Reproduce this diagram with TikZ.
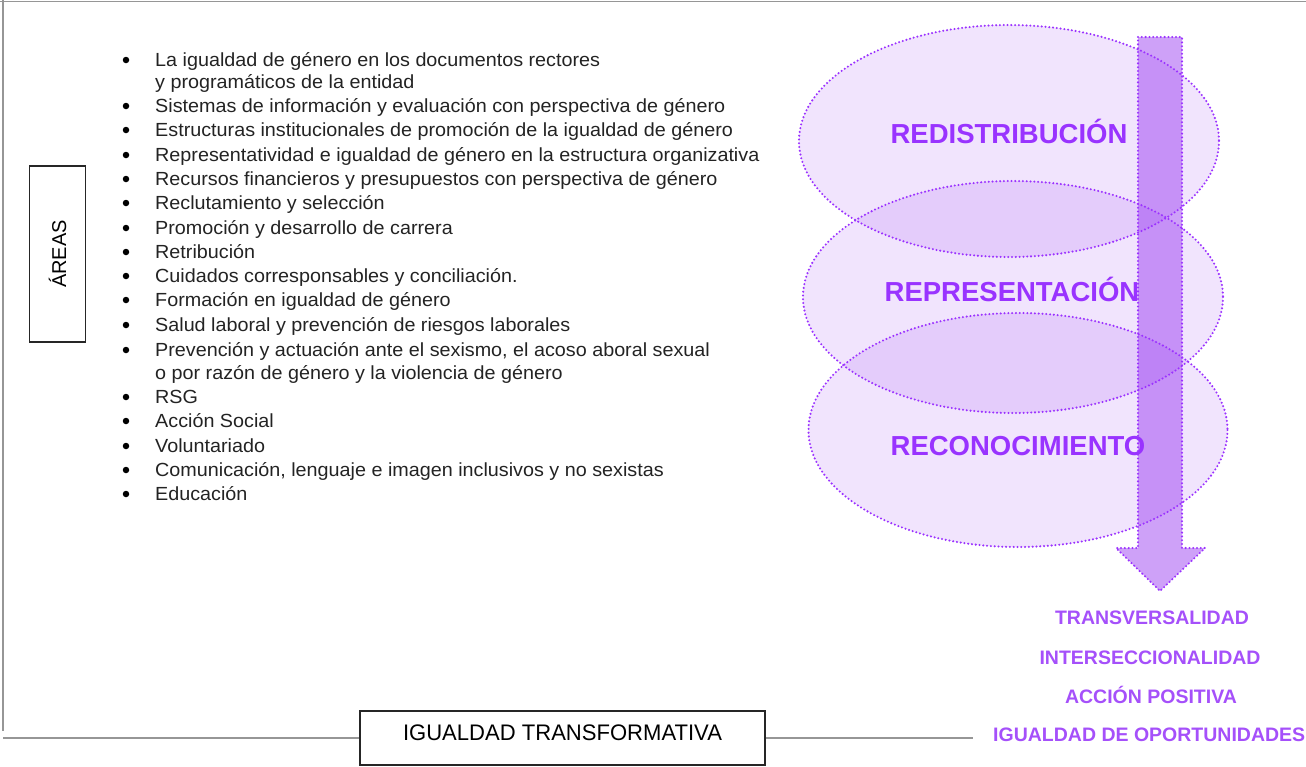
\documentclass[tikz,border=0pt]{standalone}
\usepackage{fontspec}
\usetikzlibrary{shapes.geometric}
\setmainfont{Liberation Sans}
\definecolor{txt}{RGB}{35,35,35}
\definecolor{vio}{RGB}{138,30,238}
\definecolor{violine}{RGB}{155,50,255}
\definecolor{viotext}{RGB}{153,51,255}
\definecolor{viotext2}{RGB}{165,80,250}
\definecolor{frame}{RGB}{150,150,150}
\tikzset{
  item/.style={anchor=base west, inner sep=0pt, text=txt, xscale=1.04, font=\fontsize{19}{21}\selectfont},
  bul/.style={circle, fill=black, inner sep=0pt, minimum size=6.5pt},
  dots/.style={draw=violine, draw opacity=1, line width=2.3pt, dash pattern=on 0pt off 3.8pt, line cap=round},
  ring/.style={ellipse, fill=vio, fill opacity=0.12, inner sep=0pt},
  biglab/.style={text=viotext, font=\fontsize{27.5}{30}\bfseries\selectfont, inner sep=0pt},
  smalllab/.style={text=viotext2, font=\fontsize{19.5}{21}\bfseries\selectfont, inner sep=0pt},
  framel/.style={draw=frame, line width=1.8pt},
  boxl/.style={draw=black!85, line width=1.6pt, fill=white},
}
\begin{document}
\begin{tikzpicture}[x=1pt,y=-1pt]
\useasboundingbox (0,0) rectangle (1306,766);
% frame lines
\coordinate (tl) at (3,0);
\coordinate (tr) at (1306,1.5);
\coordinate (t0) at (0,1.5);
\coordinate (lb) at (3,731);
\coordinate (bl) at (3,738);
\coordinate (br) at (973,738);
\draw[framel] (t0) -- (tr);
\draw[framel] (tl) -- (lb);

% AREAS box
\node[boxl, minimum width=56pt, minimum height=176pt, inner sep=0pt] (areas) at (57.5,254) {};
\node[rotate=90, text=black, font=\fontsize{20}{22}\selectfont, inner sep=0pt] (areastxt) at (areas.center) {ÁREAS};

% IGUALDAD TRANSFORMATIVA box
\node[boxl, minimum width=405pt, minimum height=54pt, inner sep=0pt] (tbox) at (562.5,738) {};
\node[text=black, font=\fontsize{22.5}{24}\selectfont, inner sep=0pt, xscale=0.98] (tboxtxt) at (562.5,733) {IGUALDAD TRANSFORMATIVA};
\draw[framel] (bl) -- (tbox.west);
\draw[framel] (tbox.east) -- (br);

% bullet list
\node[bul] (b1) at (126,60) {};
\node[item] (i1) at (155,66) {La igualdad de género en los documentos rectores};
\node[item] (i1b) at (155,88) {y programáticos de la entidad};
\node[bul] (b2) at (126,106) {};
\node[item] (i2) at (155,112) {Sistemas de información y evaluación con perspectiva de género};
\node[bul] (b3) at (126,130) {};
\node[item] (i3) at (155,136) {Estructuras institucionales de promoción de la igualdad de género};
\node[bul] (b4) at (126,155) {};
\node[item] (i4) at (155,161) {Representatividad e igualdad de género en la estructura organizativa};
\node[bul] (b5) at (126,179) {};
\node[item] (i5) at (155,185) {Recursos financieros y presupuestos con perspectiva de género};
\node[bul] (b6) at (126,203) {};
\node[item] (i6) at (155,209) {Reclutamiento y selección};
\node[bul] (b7) at (126,228) {};
\node[item] (i7) at (155,234) {Promoción y desarrollo de carrera};
\node[bul] (b8) at (126,252) {};
\node[item] (i8) at (155,258) {Retribución};
\node[bul] (b9) at (126,276) {};
\node[item] (i9) at (155,282) {Cuidados corresponsables y conciliación.};
\node[bul] (b10) at (126,300) {};
\node[item] (i10) at (155,306) {Formación en igualdad de género};
\node[bul] (b11) at (126,325) {};
\node[item] (i11) at (155,331) {Salud laboral y prevención de riesgos laborales};
\node[bul] (b12) at (126,350) {};
\node[item] (i12) at (155,356) {Prevención y actuación ante el sexismo, el acoso aboral sexual};
\node[item] (i12b) at (155,379) {o por razón de género y la violencia de género};
\node[bul] (b13) at (126,397) {};
\node[item] (i13) at (155,403) {RSG};
\node[bul] (b14) at (126,421) {};
\node[item] (i14) at (155,427) {Acción Social};
\node[bul] (b15) at (126,446) {};
\node[item] (i15) at (155,452) {Voluntariado};
\node[bul] (b16) at (126,470) {};
\node[item] (i16) at (155,476) {Comunicación, lenguaje e imagen inclusivos y no sexistas};
\node[bul] (b17) at (126,494) {};
\node[item] (i17) at (155,500) {Educación};

% ellipses (fills)
\node[ring, minimum width=420pt, minimum height=232pt] (e1) at (1009,141) {};
\node[ring, minimum width=420pt, minimum height=232pt] (e2) at (1013,297) {};
\node[ring, minimum width=419pt, minimum height=234pt] (e3) at (1018,430) {};

% arrow
\draw[fill=vio, fill opacity=0.42, dots, line join=round]
  (1138,37) -- (1182,37) -- (1182,548) -- (1205,548) -- (1160,591) -- (1116,548) -- (1138,548) -- cycle;

% ellipse outlines on top
\draw[dots] (e1.center) ellipse [x radius=210, y radius=116];
\draw[dots] (e2.center) ellipse [x radius=210, y radius=116];
\draw[dots] (e3.center) ellipse [x radius=209.5, y radius=117];

% labels
\node[biglab] (l1) at (1009,131) {REDISTRIBUCIÓN};
\node[biglab] (l2) at (1012,289) {REPRESENTACIÓN};
\node[biglab] (l3) at (1018,446) {RECONOCIMIENTO};

\node[smalllab] (s1) at (1152,618) {TRANSVERSALIDAD};
\node[smalllab] (s2) at (1150,658) {INTERSECCIONALIDAD};
\node[smalllab] (s3) at (1151,695) {ACCIÓN POSITIVA};
\node[smalllab, anchor=west] (s4) at (993,735) {IGUALDAD DE OPORTUNIDADES};
\end{tikzpicture}
\end{document}
